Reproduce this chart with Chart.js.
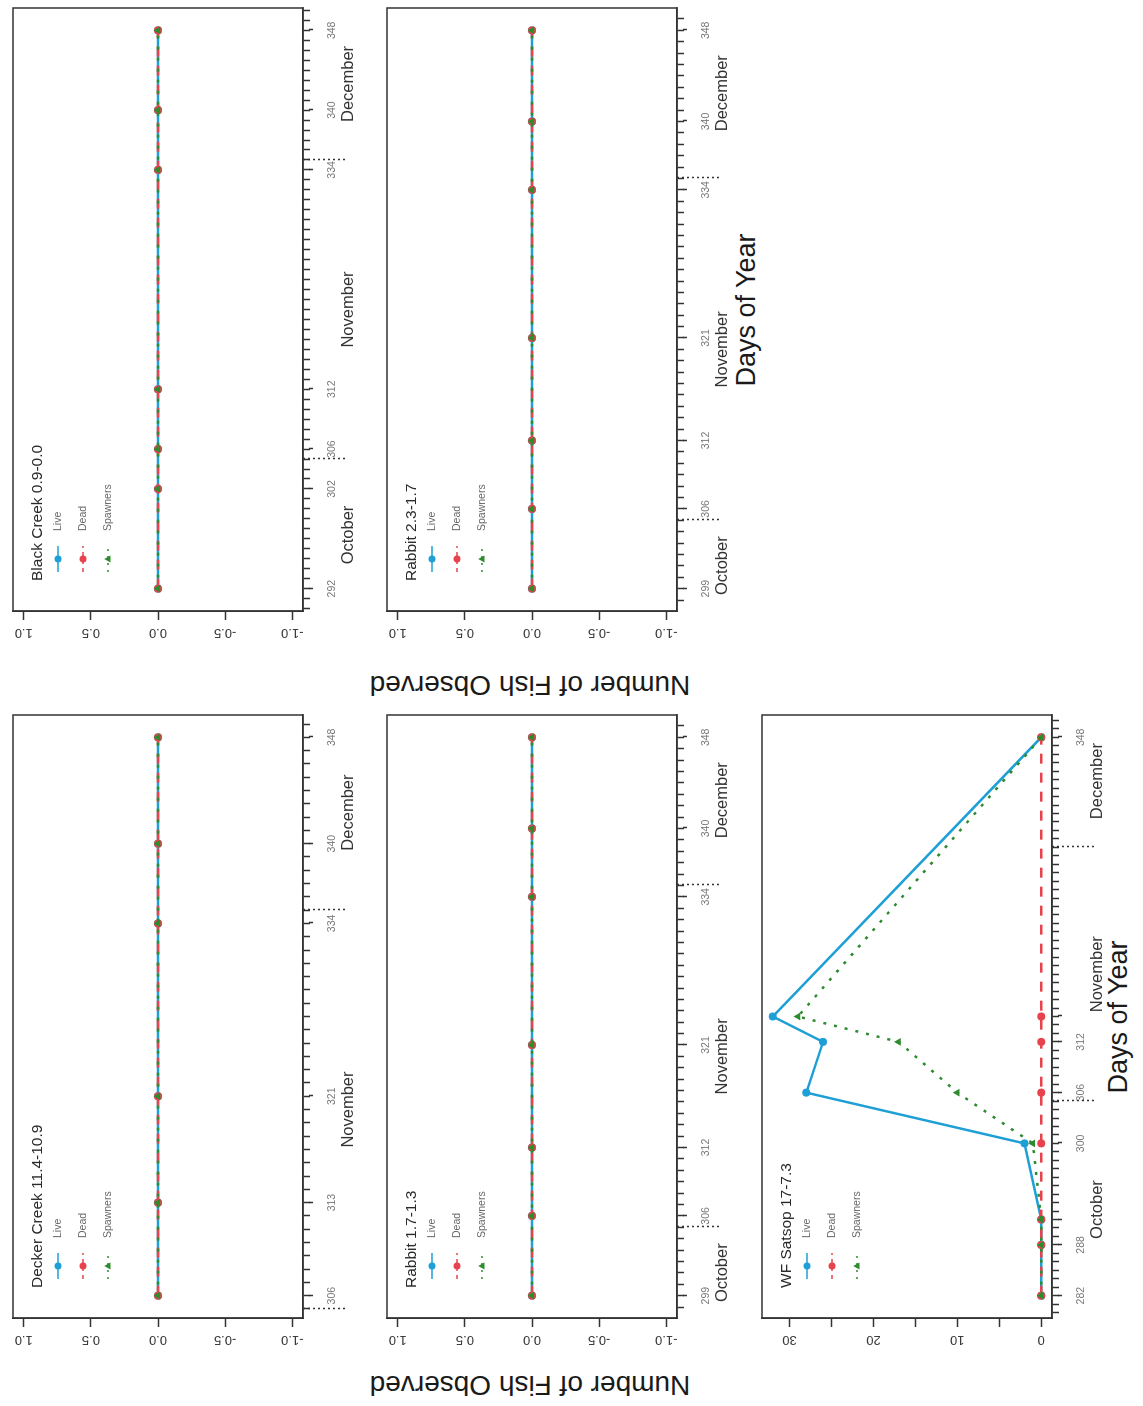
<!DOCTYPE html>
<html><head><meta charset="utf-8">
<script src="https://cdn.jsdelivr.net/npm/chart.js@4.4.1/dist/chart.umd.min.js"></script>
<style>
html,body{margin:0;padding:0;background:#fff;overflow:hidden;width:1143px;height:1406px;}
#page{position:absolute;left:0;top:0;width:1406px;height:1143px;transform-origin:0 0;transform:translate(0px,1406px) rotate(-90deg);font-family:"Liberation Sans",Arial,sans-serif;background:#fff;}
#page canvas{position:absolute;}
.lbl{position:absolute;white-space:nowrap;color:#1a1a1a;transform:translate(-50%,-50%);}
</style></head><body>
<div id="page">
  <div class="lbl" style="left:21px;top:530px;font-size:28px;transform:translate(-50%,-50%) rotate(-90deg);">Number of Fish Observed</div>
  <div class="lbl" style="left:721px;top:530px;font-size:28px;transform:translate(-50%,-50%) rotate(-90deg);">Number of Fish Observed</div>
  <div class="lbl" style="left:389px;top:1118px;font-size:27px;">Days of Year</div>
  <div class="lbl" style="left:1096px;top:746px;font-size:27px;">Days of Year</div>
</div>
<script>
// ---------------- data ----------------
const seriesNames = ['Live', 'Dead', 'Spawners'];

const deckerTitle = 'Decker Creek 11.4-10.9';
const deckerDays = [306, 313, 321, 334, 340, 348];
const deckerLive = [0, 0, 0, 0, 0, 0];
const deckerDead = [0, 0, 0, 0, 0, 0];
const deckerSpawners = [0, 0, 0, 0, 0, 0];
const deckerDayLabels = [306, 313, 321, 334, 340, 348];

const blackTitle = 'Black Creek 0.9-0.0';
const blackDays = [292, 302, 306, 312, 334, 340, 348];
const blackLive = [0, 0, 0, 0, 0, 0, 0];
const blackDead = [0, 0, 0, 0, 0, 0, 0];
const blackSpawners = [0, 0, 0, 0, 0, 0, 0];
const blackDayLabels = [292, 302, 306, 312, 334, 340, 348];

const rabbitATitle = 'Rabbit 1.7-1.3';
const rabbitADays = [299, 306, 312, 321, 334, 340, 348];
const rabbitALive = [0, 0, 0, 0, 0, 0, 0];
const rabbitADead = [0, 0, 0, 0, 0, 0, 0];
const rabbitASpawners = [0, 0, 0, 0, 0, 0, 0];
const rabbitADayLabels = [299, 306, 312, 321, 334, 340, 348];

const rabbitBTitle = 'Rabbit 2.3-1.7';
const rabbitBDays = [299, 306, 312, 321, 334, 340, 348];
const rabbitBLive = [0, 0, 0, 0, 0, 0, 0];
const rabbitBDead = [0, 0, 0, 0, 0, 0, 0];
const rabbitBSpawners = [0, 0, 0, 0, 0, 0, 0];
const rabbitBDayLabels = [299, 306, 312, 321, 334, 340, 348];

const satsopTitle = 'WF Satsop 17-7.3';
const satsopDays = [282, 288, 291, 300, 306, 312, 315, 348];
const satsopLive = [0, 0, 0, 2, 28, 26, 32, 0];
const satsopDead = [0, 0, 0, 0, 0, 0, 0, 0];
const satsopSpawners = [0, 0, 0, 1, 10, 17, 29, 0];
const satsopDayLabels = [282, 288, 300, 306, 312, 348];

const zeroTicks = [-1, -0.5, 0, 0.5, 1];
const zeroTickLabels = ['-1.0', '-0.5', '0.0', '0.5', '1.0'];
const satsopTicks = [0, 5, 10, 15, 20, 25, 30];
const satsopTickLabels = ['0', '', '10', '', '20', '', '30'];

const monthNames = ['October', 'November', 'December'];
const monthStarts = [274, 305, 335];
const monthEnds = [305, 335, 366];
const monthBoundaries = [305, 335];

// ---------------- style / layout ----------------
const FONT = '"Liberation Sans", Arial, sans-serif';
const BLUE = '#1E9FD6', RED = '#E8434C', GREEN = '#2E8B2E', AXIS = '#333';
const BOX_W = 603, BOX_H = 290, PAD_L = 70, PAD_T = 13, PAD_R = 20, PAD_B = 70;
const MINOR_LEN = 7, MAJOR_LEN = 10;

const panels = [
  {left: 88,  top: 13,  title: deckerTitle,  days: deckerDays,  vals: [deckerLive, deckerDead, deckerSpawners],   dayLabels: deckerDayLabels,  yt: zeroTicks, yl: zeroTickLabels},
  {left: 795, top: 13,  title: blackTitle,   days: blackDays,   vals: [blackLive, blackDead, blackSpawners],      dayLabels: blackDayLabels,   yt: zeroTicks, yl: zeroTickLabels},
  {left: 88,  top: 387, title: rabbitATitle, days: rabbitADays, vals: [rabbitALive, rabbitADead, rabbitASpawners], dayLabels: rabbitADayLabels, yt: zeroTicks, yl: zeroTickLabels},
  {left: 795, top: 387, title: rabbitBTitle, days: rabbitBDays, vals: [rabbitBLive, rabbitBDead, rabbitBSpawners], dayLabels: rabbitBDayLabels, yt: zeroTicks, yl: zeroTickLabels},
  {left: 88,  top: 762, title: satsopTitle,  days: satsopDays,  vals: [satsopLive, satsopDead, satsopSpawners],   dayLabels: satsopDayLabels,  yt: satsopTicks, yl: satsopTickLabels}
];

const seriesStyle = [
  {color: BLUE,  dash: [],      point: 'circle',   r: 4,   order: 3, legDash: []},
  {color: RED,   dash: [10, 9], point: 'circle',   r: 4,   order: 2, legDash: [4, 4]},
  {color: GREEN, dash: [3, 8],  point: 'triangle', r: 4.5, order: 1, legDash: [2, 5]}
];

function drawMarker(ctx, style, x, y, r) {
  ctx.fillStyle = style.color;
  ctx.beginPath();
  if (style.point === 'triangle') {
    ctx.moveTo(x, y - r * 1.1);
    ctx.lineTo(x + r, y + r * 0.7);
    ctx.lineTo(x - r, y + r * 0.7);
    ctx.closePath();
  } else {
    ctx.arc(x, y, r, 0, Math.PI * 2);
  }
  ctx.fill();
}

const decor = {
  id: 'decor',
  afterDraw(chart, args, opts) {
    const p = opts.panel;
    const ctx = chart.ctx, a = chart.chartArea;
    const xs = chart.scales.x, ys = chart.scales.y;
    const dmin = opts.xmin, dmax = opts.xmax;
    ctx.save();
    // box
    ctx.strokeStyle = AXIS; ctx.lineWidth = 1.5; ctx.setLineDash([]);
    ctx.strokeRect(a.left, a.top, a.right - a.left, a.bottom - a.top);
    // longer tick marks at the survey days
    p.days.forEach(d => {
      const px = Math.round(xs.getPixelForValue(d)) + 0.5;
      ctx.beginPath(); ctx.moveTo(px, a.bottom + MINOR_LEN - 1); ctx.lineTo(px, a.bottom + MAJOR_LEN); ctx.stroke();
    });
    // y tick labels (parallel to axis)
    ctx.fillStyle = '#3a3a3a'; ctx.font = '13px ' + FONT;
    ctx.textAlign = 'center'; ctx.textBaseline = 'middle';
    p.yt.forEach((v, i) => {
      const lab = p.yl[i];
      if (!lab) return;
      const py = ys.getPixelForValue(v);
      ctx.save(); ctx.translate(a.left - 22, py); ctx.rotate(-Math.PI / 2);
      ctx.fillText(lab, 0, 0); ctx.restore();
    });
    // month boundary dotted lines
    ctx.strokeStyle = '#333'; ctx.lineWidth = 1.5; ctx.setLineDash([2, 3]);
    monthBoundaries.forEach(d => {
      if (d < dmin || d > dmax) return;
      const px = Math.round(xs.getPixelForValue(d)) + 0.5;
      ctx.beginPath(); ctx.moveTo(px, a.bottom); ctx.lineTo(px, a.bottom + 43); ctx.stroke();
    });
    ctx.setLineDash([]);
    // month names
    ctx.fillStyle = '#333'; ctx.font = '16.5px ' + FONT; ctx.textAlign = 'center'; ctx.textBaseline = 'middle';
    monthNames.forEach((m, i) => {
      const s = Math.max(monthStarts[i], dmin), e = Math.min(monthEnds[i], dmax);
      if (e - s < 3) return;
      ctx.fillText(m, xs.getPixelForValue((s + e) / 2), a.bottom + 45);
    });
    // legend
    ctx.fillStyle = '#2a2a2a'; ctx.font = '15.5px ' + FONT; ctx.textAlign = 'left';
    ctx.fillText(p.title, a.left + 30, a.top + 25);
    const rows = [45, 70, 95];
    seriesNames.forEach((n, i) => {
      const st = seriesStyle[i], y = a.top + rows[i];
      ctx.strokeStyle = st.color; ctx.lineWidth = 1.5; ctx.setLineDash(st.legDash);
      ctx.beginPath(); ctx.moveTo(a.left + 39, y); ctx.lineTo(a.left + 65, y); ctx.stroke();
      ctx.setLineDash([]);
      drawMarker(ctx, st, a.left + 52, y, 3.5);
      ctx.fillStyle = '#666'; ctx.font = '10.5px ' + FONT;
      ctx.fillText(n, a.left + 80, y);
    });
    ctx.restore();
  }
};

const page = document.getElementById('page');

panels.forEach(p => {
  const W = PAD_L + BOX_W + PAD_R, H = PAD_T + BOX_H + PAD_B;
  const cv = document.createElement('canvas');
  cv.width = W; cv.height = H;
  cv.style.width = W + 'px'; cv.style.height = H + 'px';
  cv.style.left = (p.left - PAD_L) + 'px'; cv.style.top = (p.top - PAD_T) + 'px';
  page.appendChild(cv);

  const d0 = Math.min(...p.days), d1 = Math.max(...p.days);
  const xPad = (d1 - d0) * 0.04;
  const xmin = d0 - xPad, xmax = d1 + xPad;
  const all = [].concat(...p.vals);
  let lo = Math.min(...all), hi = Math.max(...all);
  if (lo === hi) { lo -= 1; hi += 1; }
  const yPad = (hi - lo) * 0.04;
  const everyDay = [];
  for (let d = Math.ceil(xmin); d <= Math.floor(xmax); d++) everyDay.push(d);

  const datasets = seriesNames.map((n, i) => {
    const st = seriesStyle[i];
    return {
      label: n,
      data: p.days.map((d, k) => ({x: d, y: p.vals[i][k]})),
      borderColor: st.color, backgroundColor: st.color,
      borderWidth: 2.5, borderDash: st.dash,
      pointStyle: st.point, pointRadius: st.r, pointBorderWidth: 0,
      pointBackgroundColor: st.color, tension: 0, order: st.order,
      xAxisID: 'x', yAxisID: 'y'
    };
  });

  new Chart(cv, {
    type: 'line',
    data: {datasets},
    options: {
      responsive: false, animation: false, devicePixelRatio: 1, events: [],
      layout: {padding: {left: 0, top: PAD_T, right: PAD_R, bottom: 0}},
      plugins: {legend: {display: false}, tooltip: {enabled: false}, decor: {panel: p, xmin: xmin, xmax: xmax}},
      scales: {
        x: {
          type: 'linear', position: 'bottom', min: xmin, max: xmax,
          afterBuildTicks: s => { s.ticks = everyDay.map(v => ({value: v})); },
          ticks: {
            autoSkip: false, minRotation: 0, maxRotation: 0, padding: 16,
            color: '#777', font: {size: 10.5, family: FONT},
            callback: v => p.dayLabels.includes(v) ? String(v) : ''
          },
          grid: {display: true, drawOnChartArea: false, drawTicks: true, tickLength: MINOR_LEN, tickWidth: 1.5, tickColor: AXIS},
          border: {display: true, color: AXIS, width: 1.5},
          afterFit: s => { s.height = PAD_B; }
        },
        y: {
          type: 'linear', position: 'left', min: lo - yPad, max: hi + yPad,
          afterBuildTicks: s => { s.ticks = p.yt.map(v => ({value: v})); },
          ticks: {display: false, autoSkip: false},
          grid: {display: true, drawOnChartArea: false, drawTicks: true, tickLength: 9, tickWidth: 1.5, tickColor: AXIS},
          border: {display: true, color: AXIS, width: 1.5},
          afterFit: s => { s.width = PAD_L; }
        }
      }
    },
    plugins: [decor]
  });
});
</script>
</body></html>
